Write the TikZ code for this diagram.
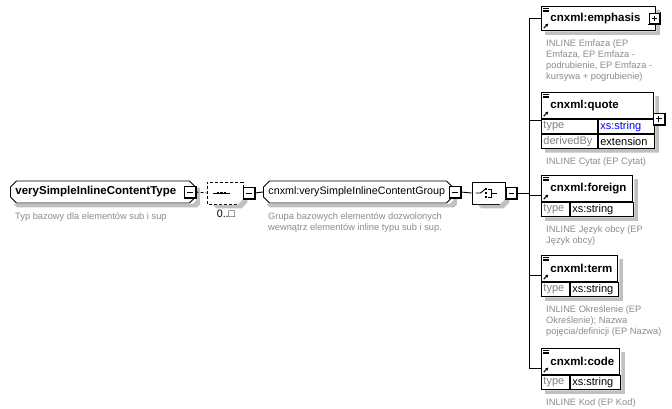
\documentclass[tikz,border=0pt]{standalone}
\usepackage{fontspec}
\setmainfont{Liberation Sans}
\usetikzlibrary{arrows.meta,calc,shapes.misc}

\definecolor{ink}{HTML}{000000}
\definecolor{descgray}{HTML}{8C8C8C}
\definecolor{attrgray}{HTML}{808080}
\definecolor{shadowgray}{RGB}{192,192,192}
\definecolor{xsblue}{HTML}{0000FF}

\newcommand{\namefont}{\fontsize{11.5}{13}\selectfont\bfseries}
\newcommand{\plainfont}{\fontsize{10.7}{13}\selectfont}
\newcommand{\rowfont}{\fontsize{11}{13}\selectfont}
\newcommand{\descfont}{\fontsize{9.3}{11}\selectfont}

% visible part of the shadow of a table from node #1 (top left) to node #2 (bottom right)
\newcommand{\boxstrip}[2]{%
  \fill[shadowgray] ($(#2.east |- #1.north)+(0.5,4)$) -- ($(#2.east |- #1.north)+(4,4)$)
    -- ($(#2.south east)+(4,4)$) -- ($(#1.west |- #2.south)+(4,4)$)
    -- ($(#1.west |- #2.south)+(4,0.5)$) -- ($(#2.south east)+(0.5,0.5)$) -- cycle;}
% visible part of the shadow of a chamfered box #1 with chamfer #2
\newcommand{\chamstrip}[2]{%
  \fill[shadowgray] ($(#1.east |- #1.north)+(0.5,#2+4)$) -- ($(#1.east |- #1.north)+(4,#2+4)$)
    -- ($(#1.east |- #1.south)+(4,4-#2)$) -- ($(#1.east |- #1.south)+(4-#2,4)$)
    -- ($(#1.west |- #1.south)+(#2+4,4)$) -- ($(#1.west |- #1.south)+(4,4-#2)$)
    -- ($(#1.west |- #1.south)+(#2+0.5,0.5)$) -- ($(#1.east |- #1.south)+(-#2,0.5)$)
    -- ($(#1.east |- #1.south)+(0.5,-#2)$) -- cycle;}

\tikzset{
  wire/.style={draw=ink, line width=0.9pt},
  optwire/.style={wire, dash pattern=on 3pt off 2pt},
  typebox/.style={chamfered rectangle, chamfered rectangle xsep=3pt, chamfered rectangle ysep=3pt,
                  draw=ink, fill=white, line width=0.9pt, minimum height=22pt,
                  inner xsep=2pt, inner ysep=0pt, anchor=west, align=left},
  compbox/.style={chamfered rectangle, chamfered rectangle xsep=6pt, chamfered rectangle ysep=6pt,
                  draw=ink, fill=white, line width=0.9pt, minimum height=22pt,
                  minimum width=#1, inner sep=0pt},
  pmbox/.style={rectangle, draw=ink, fill=white, line width=0.9pt, minimum size=10.5pt, inner sep=0pt},
  minusbox/.style={pmbox, path picture={
      \draw[line width=0.9pt] ([xshift=2.5pt]path picture bounding box.west) -- ([xshift=-2.5pt]path picture bounding box.east);}},
  plusbox/.style={pmbox, path picture={
      \draw[line width=0.9pt] ([xshift=2.5pt]path picture bounding box.west) -- ([xshift=-2.5pt]path picture bounding box.east);
      \draw[line width=0.9pt] ([yshift=-2.5pt]path picture bounding box.north) -- ([yshift=2.5pt]path picture bounding box.south);}},
  elemhead/.style={rectangle, draw=ink, fill=white, line width=0.9pt, anchor=north west,
                   minimum height=26pt, inner xsep=0pt, inner ysep=0pt, text width=#1, align=left,
                   font=\namefont, execute at begin node={\noindent\hspace*{9pt}},
                   path picture={
                     \foreach \k in {0,1.6,3.2}
                       \draw[line width=0.6pt] ([shift={(2,2+\k)}]path picture bounding box.north west) -- ++(5.5,0);
                     \draw[line width=1.1pt, -{Triangle[length=2.6pt,width=3pt]}]
                       ([shift={(2.3,-2.3)}]path picture bounding box.south west) -- ++(4.5,-4.5);
                   }},
  cellname/.style={rectangle, draw=ink, fill=white, line width=0.9pt, anchor=north west,
                   minimum height=14pt, inner xsep=2pt, inner ysep=0pt, text width=#1, align=left,
                   font=\rowfont, text=attrgray},
  cellval/.style={cellname=#1, text=ink},
  desc/.style={anchor=north west, inner sep=0pt, align=left, font=\descfont, text=descgray}
}

\begin{document}
\begin{tikzpicture}[x=1pt, y=-1pt]
  \fill[white] (0,0) rectangle (672,409);
  \useasboundingbox (0,0) rectangle (672,409);

  % type, sequence, group, choice
  \node[typebox, text width=175pt, font=\namefont] (root) at (10,192) {verySimpleInlineContentType};
  \node[desc] (rootDesc) at (15,212) {Typ bazowy dla elementów sub i sup};

  \node[compbox=36pt, dash pattern=on 3pt off 2pt] (seq) at (225,193) {};
  \node[font=\plainfont] (seqCount) at (226,214) {0..□};

  \node[typebox, text width=179pt, font=\plainfont] (group) at (263,192) {cnxml:verySimpleInlineContentGroup};
  \node[desc] (groupDesc) at (268,212) {Grupa bazowych elementów dozwolonych\\wewnątrz elementów inline typu sub i sup.};

  \node[compbox=33pt] (choice) at (488.5,193) {};

  % choice members
  \node[elemhead=114pt, minimum height=24pt] (emphasis) at (541,6) {cnxml:emphasis};
  \node[desc] at ([shift={(5,9)}]emphasis.south west)
       {INLINE Emfaza (EP\\Emfaza, EP Emfaza -\\podrubienie, EP Emfaza -\\kursywa + pogrubienie)};

  \node[elemhead=112pt] (quote) at (541,92) {cnxml:quote};
  \node[cellname=52pt] (quoteTypeK) at (quote.south west) {type};
  \node[cellval=52pt, text=xsblue] (quoteTypeV) at (quoteTypeK.north east) {xs:string};
  \node[cellname=52pt] (quoteDerK) at (quoteTypeK.south west) {derivedBy};
  \node[cellval=52pt] (quoteDerV) at (quoteDerK.north east) {extension};
  \coordinate (quoteIn) at ($(quote.north west)!.5!(quoteDerK.south west)$);
  \node[desc] at ([shift={(5,9)}]quoteDerK.south west) {INLINE Cytat (EP Cytat)};

  \foreach \el/\top/\hw/\vw in {foreign/175/91/59, term/255/76/44, code/348/78/46}{
    \node[elemhead=\hw pt] (\el) at (541,\top) {cnxml:\el};
    \node[cellname=24pt] (\el-k) at (\el.south west) {type};
    \node[cellval=\vw pt] (\el-v) at (\el-k.north east) {xs:string};
    \coordinate (\el In) at ($(\el.north west)!.5!(\el-k.south west)$);
  }
  \node[desc] at ([shift={(5,9)}]foreign-k.south west) {INLINE Język obcy (EP\\Język obcy)};
  \node[desc] at ([shift={(5,9)}]term-k.south west)
       {INLINE Określenie (EP\\Określenie); Nazwa\\pojęcia/definicji (EP Nazwa)};
  \node[desc] at ([shift={(5,9)}]code-k.south west) {INLINE Kod (EP Kod)};

  % shadows
  \chamstrip{root}{3}
  \chamstrip{group}{3}
  \chamstrip{seq}{6}
  \chamstrip{choice}{6}
  \boxstrip{emphasis}{emphasis}
  \boxstrip{quote}{quoteDerV}
  \foreach \el in {foreign,term,code}
    \boxstrip{\el}{\el-v};

  % +/- boxes
  \node[minusbox] (rootMinus) at ([xshift=-6pt]root.east) {};
  \node[minusbox] (seqMinus) at ([xshift=5.5pt]seq.east) {};
  \node[minusbox] (groupMinus) at ([xshift=2pt]group.east) {};
  \node[minusbox] (choiceMinus) at ([xshift=6pt]choice.east) {};
  \node[plusbox] (emphasisPlus) at ([xshift=-1.5pt]emphasis.east) {};
  \coordinate (quotePlusAt) at (quote.east |- quoteIn);
  \node[plusbox] (quotePlus) at ([shift={(5,-1.5)}]quotePlusAt) {};
  \foreach \sw in {rootMinus,seqMinus,groupMinus,choiceMinus,emphasisPlus,quotePlus}
    \draw[ink, line width=1pt] ([shift={(0.5,-0.5)}]\sw.north east) -- ([shift={(0.5,0.5)}]\sw.south east)
                               -- ([shift={(-0.5,0.5)}]\sw.south west);

  % compositor icons
  \draw[wire] ([xshift=-12pt]seq.center) -- ([xshift=5pt]seq.center);
  \foreach \d in {-7,-3.5,0}
    \fill[ink] ([xshift=\d pt]seq.center) ++(-1.2,-1.2) rectangle ++(2.4,2.4);
  \draw[wire] ([shift={(-13,0)}]choice.center) -- ++(5,0) -- ++(5,-4);
  \foreach \d in {-4,0,4}
    \fill[ink] ([shift={(-2.5,\d)}]choice.center) ++(-1,-1) rectangle ++(2,2);
  \draw[wire] ([shift={(-0.5,-4)}]choice.center) -- ++(3.5,0) -- ++(0,8) -- ++(-3.5,0);
  \draw[wire] ([shift={(3,0)}]choice.center) -- ++(5,0);

  % connectors
  \draw[optwire] (rootMinus.east) -- (seq.west);
  \draw[wire] (seqMinus.east) -- (group.west);
  \draw[wire] (groupMinus.east) -- (choice.west);
  \coordinate (bus) at (529,193);
  \draw[wire] (choiceMinus.east) -- (bus);
  \draw[wire] (bus |- emphasis.west) -- (bus |- codeIn);
  \foreach \tgt in {emphasis.west, quoteIn, foreignIn, termIn, codeIn}
    \draw[wire] (bus |- \tgt) -- (\tgt);
\end{tikzpicture}
\end{document}
